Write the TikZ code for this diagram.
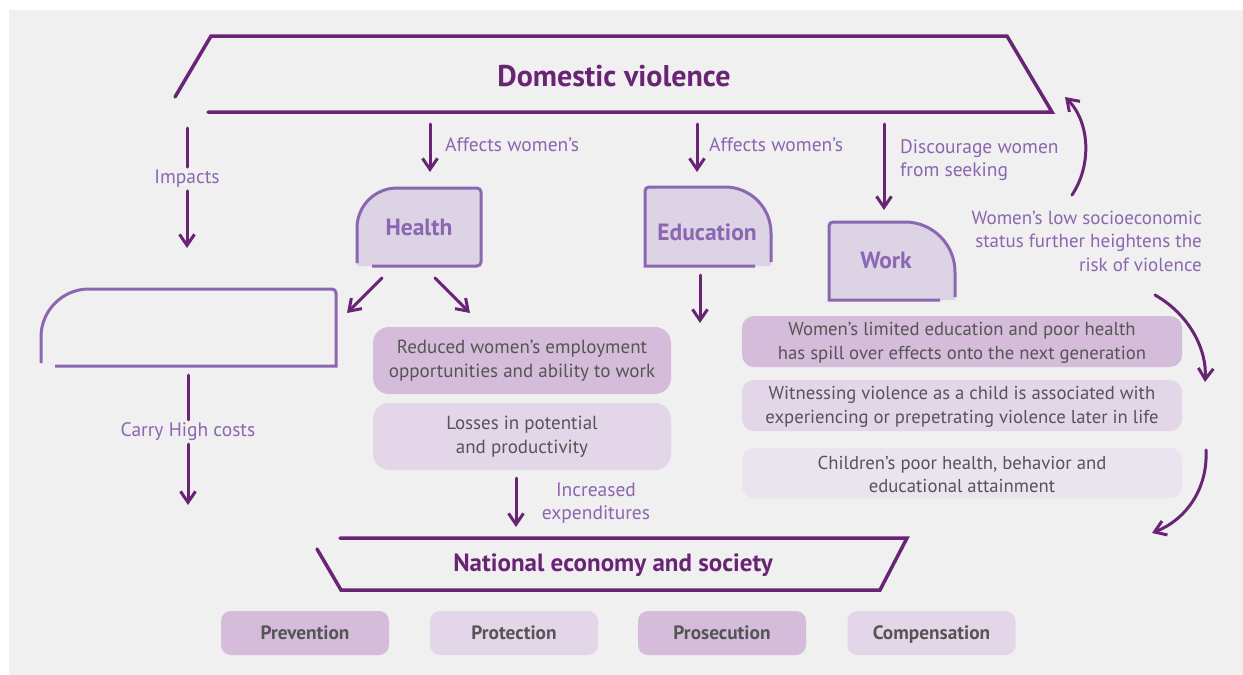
\documentclass[tikz,border=0pt]{standalone}
\usepackage{fontspec}
\setmainfont{PT Sans}
\usetikzlibrary{arrows.meta}
\definecolor{bg}{HTML}{F0F0F0}
\definecolor{dpurple}{HTML}{6A2475}
\definecolor{mpurple}{HTML}{8B66B1}
\definecolor{hfill}{HTML}{DCD3E5}
\definecolor{fillA}{HTML}{D5BCDA}
\definecolor{fillB}{HTML}{E4D6E9}
\definecolor{fillC}{HTML}{EAE4EE}
\definecolor{tgray}{HTML}{555555}
\tikzset{
  conn/.style={draw=dpurple, line width=3pt, line cap=round},
  arr/.style={conn, -{Straight Barb[length=11pt,width=15pt,line width=3pt]}},
  boxline/.style={draw=mpurple, line width=3pt},
  frame/.style={draw=dpurple, line width=3.5pt, line cap=round, line join=miter},
  title/.style={text=dpurple, font=\fontsize{30}{36}\selectfont\bfseries, inner sep=0pt},
  boxtitle/.style={text=mpurple, font=\fontsize{23.5}{28}\selectfont\bfseries, inner sep=0pt},
  lbl/.style={text=mpurple, font=\fontsize{19.5}{23.5}\selectfont, inner sep=3pt, align=center},
  infobox/.style={rounded corners=16pt, minimum width=298pt, minimum height=67pt, text=tgray, font=\fontsize{19}{23.5}\selectfont, align=center, inner sep=0pt},
  wide/.style={rounded corners=12pt, minimum width=440pt, minimum height=51pt, text=tgray, font=\fontsize{18.7}{23.5}\selectfont, align=center, inner sep=0pt},
  btn/.style={rounded corners=10pt, minimum width=168pt, minimum height=44pt, text=tgray, font=\fontsize{19.3}{22}\selectfont\bfseries, inner sep=0pt, text height=15pt, text depth=2pt},
}
\begin{document}
\begin{tikzpicture}[x=1pt,y=1pt]
\fill[white] (0,0) rectangle (1243,-675);
\fill[bg] (9,-10) rectangle (1243,-675);
\useasboundingbox (0,0) rectangle (1243,-675);

% Domestic violence frame
\draw[frame] (175,-97) -- (211,-36) -- (1007,-36) -- (1052,-112) -- (208,-112);
\node[title] (dv) at (614,-76) {Domestic violence};

% named coordinates for connector ends
\coordinate (impTop) at (187,-128);
\coordinate (impEnd) at (187,-248);
\coordinate (hTop) at (430,-124);
\coordinate (hEnd) at (430,-172);
\coordinate (eTop) at (697,-124);
\coordinate (eEnd) at (697,-172);
\coordinate (wTop) at (884,-124);
\coordinate (wEnd) at (884,-210);

% Impacts
\node[lbl] (imp) at (187,-179) {Impacts};
\draw[conn] (impTop) -- (imp.north);
\draw[arr] (imp.south) -- (impEnd);

% Affects women's
\draw[arr] (hTop) -- (hEnd);
\node[lbl, anchor=west] (affH) at (442,-145) {Affects women’s};
\draw[arr] (eTop) -- (eEnd);
\node[lbl, anchor=west] (affE) at (706,-145) {Affects women’s};
\draw[arr] (wTop) -- (wEnd);
\node[lbl, anchor=west, align=left] (disc) at (897,-160) {Discourage women\\from seeking};

% Health box
\fill[hfill] (357,-266) -- (357,-228) arc(180:90:40) -- (477,-188) arc(90:0:4) -- (481,-266) -- cycle;
\draw[boxline] (357,-263) -- (357,-228) arc(180:90:40) -- (477,-188) arc(90:0:4) -- (481,-262) arc(0:-90:4) -- (372,-266);
\node[boxtitle] (health) at (419,-227) {Health};

% Education box
\fill[hfill] (645,-266) -- (645,-191) arc(180:90:4) -- (725,-187) arc(90:0:46) -- (771,-266) -- cycle;
\draw[boxline] (771,-262) -- (771,-233) arc(0:90:46) -- (649,-187) arc(90:180:4) -- (645,-266) -- (755,-266);
\node[boxtitle] (edu) at (707,-232) {Education};

% Work box
\fill[hfill] (829,-300) -- (829,-226) arc(180:90:4) -- (905,-222) arc(90:0:50) -- (955,-300) -- cycle;
\draw[boxline] (955,-297) -- (955,-272) arc(0:90:50) -- (833,-222) arc(90:180:4) -- (829,-300) -- (940,-300);
\node[boxtitle] (work) at (886,-260) {Work};

% Left empty box
\draw[boxline] (41,-363) -- (41,-337) arc(180:90:48) -- (332,-289) arc(90:0:4) -- (336,-366) -- (55,-366);

% Health arrows
\coordinate (h1s) at (382,-278);
\coordinate (h1e) at (347,-313);
\coordinate (h2s) at (435,-278);
\coordinate (h2e) at (470,-313);
\draw[arr] (h1s) -- (h1e);
\draw[arr] (h2s) -- (h2e);

% Education down arrow
\coordinate (e2s) at (700,-275);
\coordinate (e2e) at (700,-323);
\draw[arr] (e2s) -- (e2e);

% Carry High costs
\coordinate (cTop) at (188,-375);
\coordinate (cEnd) at (188,-505);
\node[lbl] (carry) at (188,-432) {Carry High costs};
\draw[conn] (cTop) -- (carry.north);
\draw[arr] (carry.south) -- (cEnd);

% Middle boxes
\node[infobox, fill=fillA] (reduced) at (522,-360.5) {Reduced women’s employment\\opportunities and ability to work};
\node[infobox, fill=fillB] (losses) at (522,-436.5) {Losses in potential\\and productivity};
\coordinate (lStart) at (516,-478);
\coordinate (lEnd) at (516,-527);
\draw[arr] (lStart) -- (lEnd);
\node[lbl] (incr) at (596,-503) {Increased\\expenditures};

% National economy frame
\draw[frame] (317,-549) -- (341,-590) -- (880,-590) -- (907,-538) -- (340,-538);
\node[title, font=\fontsize{25}{30}\selectfont\bfseries] (nat) at (613,-565) {National economy and society};

% Buttons
\node[btn, fill=fillA] (prev) at (305,-633) {Prevention};
\node[btn, fill=fillB] (prot) at (514,-633) {Protection};
\node[btn, fill=fillA] (pros) at (722,-633) {Prosecution};
\node[btn, fill=fillB] (comp) at (931.5,-633) {Compensation};

% Right boxes
\node[wide, fill=fillA] (spill) at (962,-341.5) {\rule{0pt}{16pt}Women’s limited education and poor health\\has spill over effects onto the next generation};
\node[wide, fill=fillB] (witness) at (962,-405.5) {\rule{0pt}{16pt}Witnessing violence as a child is associated with\\experiencing or prepetrating violence later in life};
\node[wide, fill=fillC, minimum height=50pt] (child) at (962,-473) {\rule{0pt}{16pt}Children’s poor health, behavior and\\educational attainment};

% Socioeconomic text
\node[lbl, anchor=east, align=right, inner sep=0pt, font=\fontsize{19}{23.5}\selectfont] (socio) at (1202,-241) {Women’s low socioeconomic\\status further heightens the\\risk of violence};

% Curved arrows
\coordinate (c1s) at (1072,-195);
\coordinate (c1e) at (1065,-97);
\coordinate (c2s) at (1155,-295);
\coordinate (c2e) at (1205,-382);
\coordinate (c3s) at (1206,-450);
\coordinate (c3e) at (1152,-533);
\draw[arr] (c1s) .. controls (1092,-165) and (1090,-122) .. (c1e);
\draw[arr] (c2s) .. controls (1190,-315) and (1207,-350) .. (c2e);
\draw[arr] (c3s) .. controls (1208,-490) and (1185,-520) .. (c3e);
\end{tikzpicture}
\end{document}
